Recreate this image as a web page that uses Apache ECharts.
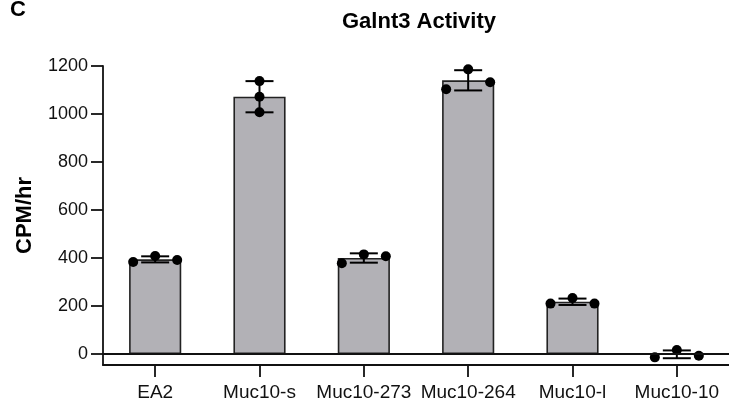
<!DOCTYPE html>
<html>
<head>
<meta charset="utf-8">
<script src="https://cdn.jsdelivr.net/npm/echarts@6/dist/echarts.min.js"></script>
<style>
  html, body { margin: 0; padding: 0; background: #ffffff; }
  #chart { width: 729px; height: 403px; }
</style>
</head>
<body>
<div id="chart"></div>
<script>
// ---- data ----
const categories = ['EA2', 'Muc10-s', 'Muc10-273', 'Muc10-264', 'Muc10-l', 'Muc10-10'];
const rep1 = [383, 1137, 378, 1103, 210, -14];
const rep2 = [408, 1072, 415, 1186, 233, 17];
const rep3 = [392, 1007, 407, 1132, 210, -7];
const yTicks = [0, 200, 400, 600, 800, 1000, 1200];
const titleText = 'Galnt3 Activity';
const yName = 'CPM/hr';
const panelLetter = 'C';

// derived statistics (mean ± SD of the replicates)
const reps = categories.map((c, i) => [rep1[i], rep2[i], rep3[i]]);
const means = reps.map(r => r.reduce((a, b) => a + b, 0) / r.length);
const sds = reps.map((r, i) => {
  const m = means[i];
  return Math.sqrt(r.reduce((a, b) => a + (b - m) * (b - m), 0) / (r.length - 1));
});
const catIndex = categories.map((c, i) => i);

const FONT = '"Liberation Sans", Arial, Helvetica, sans-serif';
const DOT = 10;
const JITTER = 22;
const CAP = 14;
const AX = { color: '#111', width: 1.8 };

const chart = echarts.init(document.getElementById('chart'), null, { renderer: 'canvas' });

chart.setOption({
  backgroundColor: '#ffffff',
  animation: false,
  title: {
    text: titleText,
    left: 419,
    top: 11,
    textAlign: 'center',
    padding: 0,
    textStyle: { fontFamily: FONT, fontSize: 22, fontWeight: 'bold', color: '#000' }
  },
  graphic: [{
    type: 'text',
    left: 10,
    top: -1,
    style: { text: panelLetter, font: 'bold 22px ' + FONT, fill: '#000' }
  }],
  grid: { left: 103, top: 66, width: 630, height: 299, containLabel: false },
  xAxis: [
    {
      type: 'category',
      data: categories,
      boundaryGap: true,
      axisLine: { show: true, onZero: false, lineStyle: AX },
      axisTick: { show: false },
      axisLabel: { fontFamily: FONT, fontSize: 19, color: '#111', margin: 18, interval: 0 },
      splitLine: { show: false }
    },
    {
      type: 'value',
      position: 'bottom',
      min: -0.5,
      max: categories.length - 0.5,
      axisLine: { show: false, onZero: false },
      axisTick: { show: true, length: 12, customValues: catIndex, lineStyle: AX },
      axisLabel: { show: false },
      splitLine: { show: false }
    }
  ],
  yAxis: {
    type: 'value',
    min: -45.8,
    max: 1200,
    name: yName,
    nameLocation: 'middle',
    nameGap: 67,
    nameRotate: 90,
    nameTextStyle: { fontFamily: FONT, fontSize: 22, fontWeight: 'bold', color: '#000' },
    axisLine: { show: true, onZero: false, lineStyle: AX },
    axisTick: { show: true, length: 12, customValues: yTicks, lineStyle: AX },
    axisLabel: {
      fontFamily: FONT, fontSize: 18, color: '#111', margin: 15, customValues: yTicks,
      formatter: v => String(v)
    },
    splitLine: { show: false }
  },
  series: [
    {
      name: 'mean',
      type: 'bar',
      xAxisIndex: 0,
      data: means,
      barWidth: '50%',
      itemStyle: { color: '#b2b1b6', borderColor: '#222', borderWidth: 1.6 },
      markLine: {
        silent: true,
        symbol: 'none',
        label: { show: false },
        lineStyle: { color: '#111', width: 1.8, type: 'solid' },
        data: [{ yAxis: 0 }]
      },
      z: 2
    },
    {
      name: 'error',
      type: 'custom',
      xAxisIndex: 0,
      data: categories.map((c, i) => [i, means[i], sds[i]]),
      encode: { x: 0, y: 1 },
      renderItem: function (params, api) {
        const i = api.value(0);
        const m = api.value(1);
        const s = api.value(2);
        const top = api.coord([i, m + s]);
        const bot = api.coord([i, m - s]);
        const x = top[0];
        const st = { stroke: '#000', lineWidth: 2 };
        return {
          type: 'group',
          children: [
            { type: 'line', shape: { x1: x, y1: top[1], x2: x, y2: bot[1] }, style: st },
            { type: 'line', shape: { x1: x - CAP, y1: top[1], x2: x + CAP, y2: top[1] }, style: st },
            { type: 'line', shape: { x1: x - CAP, y1: bot[1], x2: x + CAP, y2: bot[1] }, style: st }
          ]
        };
      },
      z: 3
    },
    {
      name: 'replicates',
      type: 'custom',
      xAxisIndex: 0,
      data: categories.map((c, i) => [i, rep1[i], rep2[i], rep3[i]]),
      encode: { x: 0, y: [1, 2, 3] },
      renderItem: function (params, api) {
        const i = api.value(0);
        const vals = [api.value(1), api.value(2), api.value(3)];
        const pts = vals.map(v => api.coord([i, v]));
        const ys = pts.map(p => p[1]).slice().sort((a, b) => a - b);
        let crowded = false;
        for (let k = 1; k < ys.length; k++) {
          if (ys[k] - ys[k - 1] < DOT + 1) crowded = true;
        }
        const offs = crowded ? [-JITTER, 0, JITTER] : [0, 0, 0];
        return {
          type: 'group',
          children: pts.map((p, k) => ({
            type: 'circle',
            shape: { cx: p[0] + offs[k], cy: p[1], r: DOT / 2 },
            style: { fill: '#000' }
          }))
        };
      },
      z: 4
    }
  ]
});
</script>
</body>
</html>
